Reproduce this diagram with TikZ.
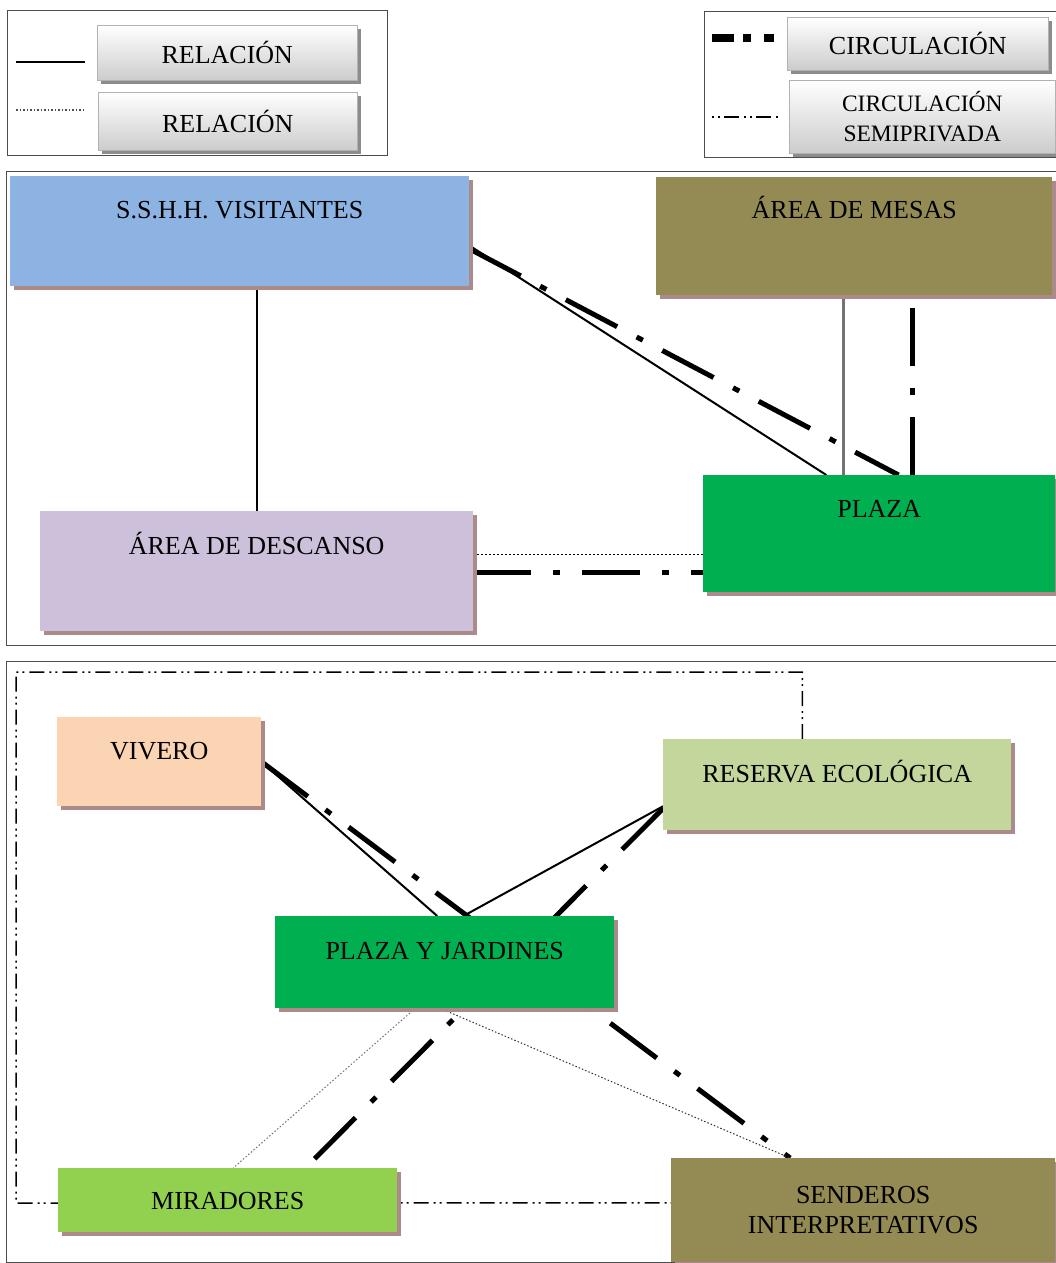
\documentclass[tikz,border=0pt]{standalone}
\usepackage{fontspec}
\setmainfont{Liberation Serif}
\usetikzlibrary{calc,shadows,backgrounds}
\definecolor{sshblue}{HTML}{8DB3E2}
\definecolor{olive}{HTML}{948A54}
\definecolor{plazagreen}{HTML}{00B050}
\definecolor{lavender}{HTML}{CCC0DA}
\definecolor{peach}{HTML}{FBD4B4}
\definecolor{sage}{HTML}{C3D69B}
\definecolor{lime}{HTML}{92D050}
\definecolor{shadowc}{RGB}{172,138,138}
\begin{document}
\begin{tikzpicture}[x=1pt,y=-1pt,
	box/.style={anchor=north west, inner sep=0pt, font=\fontsize{26}{30}\selectfont},
	area/.style={box, drop shadow={shadow xshift=4pt, shadow yshift=-4pt, fill=shadowc, opacity=1}},
	key/.style={box, draw=black!30, line width=.6pt, top color=white, bottom color=black!20,
		drop shadow={shadow xshift=4pt, shadow yshift=-4pt, fill=black!45, opacity=1}},
	frame/.style={draw=black!70, line width=1pt},
	rel/.style={line width=2pt},
	relp/.style={line width=1.5pt, dash pattern=on 1.5pt off 2.5pt},
	circ/.style={line width=5pt, dash pattern=on 58pt off 22pt on 7pt off 22pt},
	semi/.style={line width=1.5pt, dash pattern=on 15pt off 5pt on 2pt off 4pt on 2pt off 5pt}]
\useasboundingbox (0,0) rectangle (1055,1263);

% frames
\draw[frame] (7,11) rectangle (387,155);
\draw[frame] (704,12) rectangle (1060,157);
\draw[frame] (6,171) rectangle (1060,645);
\draw[frame] (6,661) rectangle (1060,1262);

% legend
\node[key, minimum width=260pt, minimum height=55pt] (rel1) at (97,25) {RELACIÓN};
\node[key, minimum width=259pt, minimum height=58pt] (rel2) at (98,92) {RELACIÓN};
\node[key, minimum width=261pt, minimum height=53pt] (circ1) at (787,17) {CIRCULACIÓN};
\node[key, minimum width=266pt, minimum height=73pt, align=center,
	font=\fontsize{23.5}{30}\selectfont] (circ2) at (789,80) {CIRCULACIÓN\\SEMIPRIVADA};
\draw[line width=2.5pt] (16,62) -- (85,62);
\draw[line width=1.2pt, black!70, dash pattern=on 1.5pt off 2pt] (16,110) -- (85,110);
\draw[line width=8pt, dash pattern=on 22pt off 9pt on 8pt off 13pt on 10pt off 20pt] (712,38) -- (775,38);
\draw[line width=1.5pt, dash pattern=on 2pt off 4pt on 2pt off 4pt on 15pt off 5pt] (712,117) -- (778,117);

% upper zone
\node[area, fill=sshblue, minimum width=459pt, text height=42pt, text depth=68pt] (ssh) at (10,176) {S.S.H.H. VISITANTES};
\node[area, fill=olive, minimum width=396pt, text height=41pt, text depth=77pt] (mesas) at (656,177) {ÁREA DE MESAS};
\node[area, fill=plazagreen, minimum width=352pt, text height=42pt, text depth=75pt] (plaza) at (703,475) {PLAZA};
\node[area, fill=lavender, minimum width=433pt, text height=43pt, text depth=77pt] (desc) at (40,511) {ÁREA DE DESCANSO};

% lower zone
\node[area, fill=peach, minimum width=204pt, text height=42pt, text depth=47pt] (viv) at (57,717) {VIVERO};
\node[area, fill=sage, minimum width=348pt, text height=43pt, text depth=48pt] (res) at (663,739) {RESERVA ECOLÓGICA};
\node[area, fill=plazagreen, minimum width=339pt, text height=43pt, text depth=49pt] (pyj) at (275,916) {PLAZA Y JARDINES};
\node[area, fill=lime, minimum width=339pt, text height=41pt, text depth=23pt] (mir) at (58,1168) {MIRADORES};
\node[area, fill=olive, minimum width=384pt, minimum height=104pt, align=center] (sen) at (671,1158) {SENDEROS\\INTERPRETATIVOS};

\begin{scope}[on background layer]
\coordinate (m1) at ($(plaza.north west)!.398!(plaza.north east)$);
\coordinate (m2) at ($(plaza.north west)!.594!(plaza.north east)$);
\coordinate (d1) at ($(desc.north east)!.36!(desc.south east)$);
\coordinate (d2) at ($(desc.north east)!.51!(desc.south east)$);
\coordinate (s1) at ($(sen.north west)!.31!(sen.north east)$);
\draw[rel] (desc.north) -- (desc.north |- ssh.south);
\draw[rel] ($(ssh.north east)!.63!(ssh.south east)$) -- ($(plaza.north west)!.35!(plaza.north east)$);
\draw[circ] ($(ssh.north east)!.66!(ssh.south east)$) -- ($(plaza.north west)!.555!(plaza.north east)$);
\draw[rel, black!55, line width=2.5pt] (m1) -- (m1 |- mesas.south);
\draw[circ] (m2) -- (m2 |- mesas.south);
\draw[relp] (d1) -- (d1 -| plaza.west);
\draw[circ] (d2) -- (d2 -| plaza.west);

\draw[semi] ($(res.north west)!.4!(res.north east)$) -- ++(0,-67) -| (16,1203)
	-- ($(sen.north west)!.43!(sen.south west)$);
\draw[rel] (viv.east) -- ($(pyj.north west)!.478!(pyj.north east)$);
\draw[circ] (viv.east) -- (s1);
\draw[rel] ($(pyj.north west)!.555!(pyj.north east)$) -- ($(res.north west)!.736!(res.south west)$);
\draw[circ] ($(res.north west)!.76!(res.south west)$) -- ($(mir.north west)!.729!(mir.north east)$);
\draw[line width=1pt, black!55, dash pattern=on 1.5pt off 2pt] ($(pyj.south west)!.413!(pyj.south east)$) -- ($(mir.north west)!.516!(mir.north east)$);
\draw[line width=1pt, black!80, dash pattern=on 1.5pt off 2pt] ($(pyj.south west)!.487!(pyj.south east)$) -- (s1);
\end{scope}
\end{tikzpicture}
\end{document}
